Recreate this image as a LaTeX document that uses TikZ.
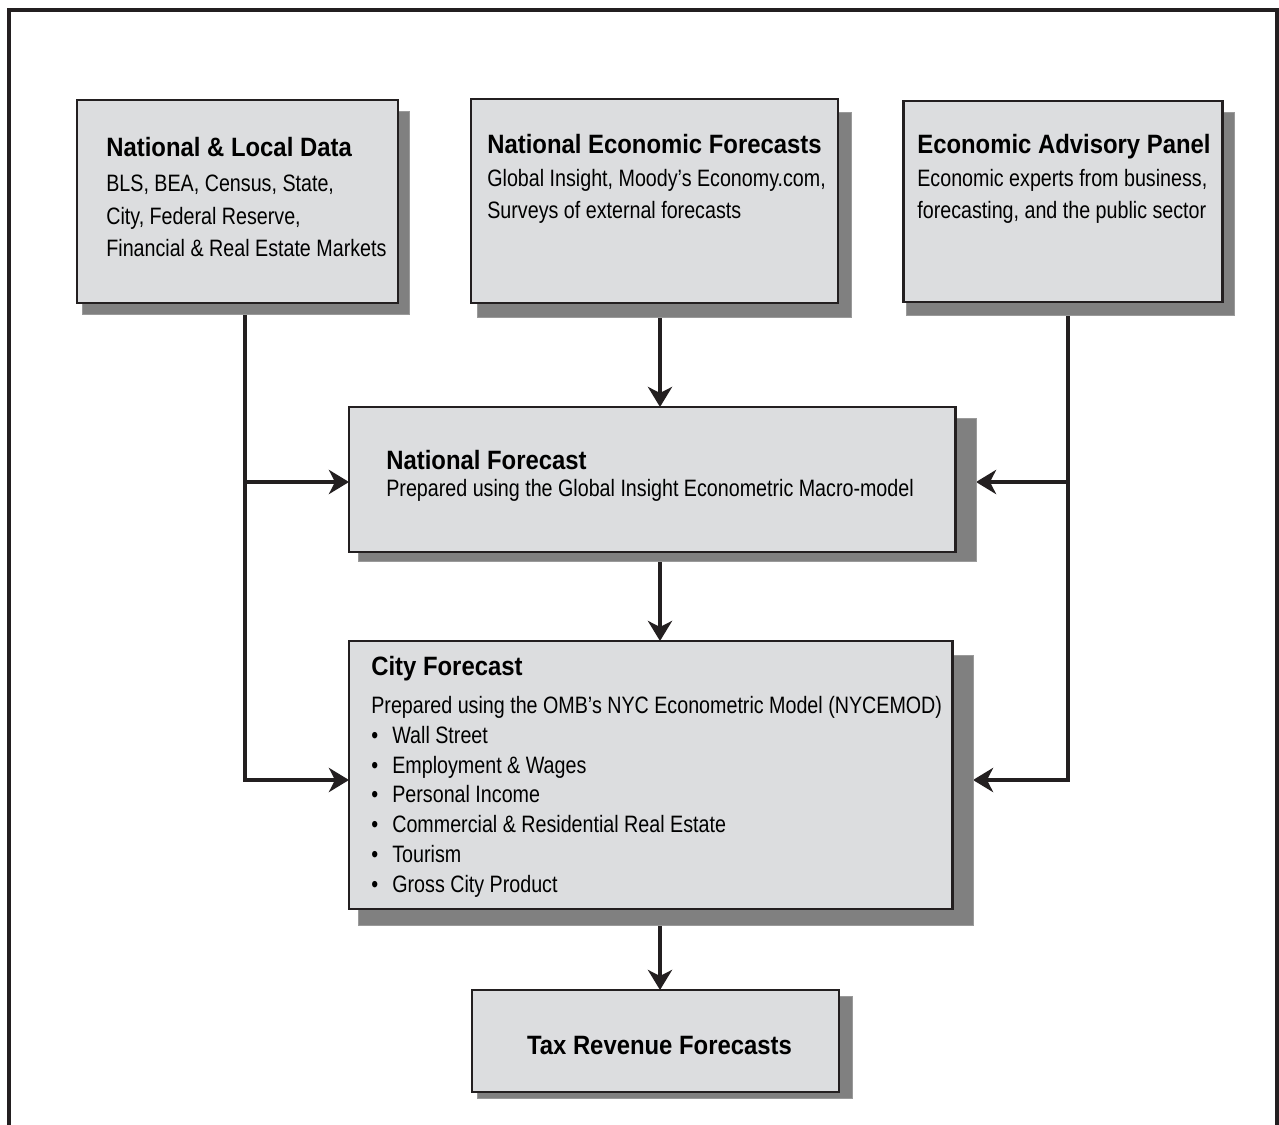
\documentclass[tikz,border=0pt]{standalone}
\usepackage{fontspec}
\setmainfont{Liberation Sans}[FakeStretch=0.83]
\newfontfamily\titlefont{Liberation Sans}[FakeStretch=0.9]
\usetikzlibrary{arrows.meta}
\definecolor{boxfill}{HTML}{DCDDDF}
\definecolor{shfill}{HTML}{808080}
\definecolor{shline}{HTML}{9A9A9A}
\definecolor{ink}{HTML}{231F20}
\pgfdeclarelayer{bg}
\pgfsetlayers{bg,main}
\newcommand\pxnode[6]{% style, name, x1,y1,x2,y2
  \node[#1, minimum width={(#5-#3)*0.02cm}, minimum height={(#6-#4)*0.02cm}] (#2) at ({(#3+#5)/2},{(#4+#6)/2}) {};}
\newcommand\bul{\makebox[11.95pt][l]{•}}
\begin{document}
\begin{tikzpicture}[x=0.02cm,y=-0.02cm,
  boxst/.style={rectangle, draw=ink, line width=1.7pt, fill=boxfill, inner sep=0pt, outer sep=0pt},
  shst/.style={rectangle, fill=shfill, draw=shline, line width=0.5pt, inner sep=0pt, outer sep=0pt},
  ttl/.style={anchor=base west, inner sep=0pt, font=\titlefont\bfseries\fontsize{15.1}{18}\selectfont},
  bdy/.style={anchor=base west, inner sep=0pt, font=\fontsize{13.5}{18.2}\selectfont},
  ln/.style={draw=ink, line width=2pt},
  arr/.style={ln, -{Stealth[length=11.4pt, width=13.7pt, inset=3.4pt]}}
]
\useasboundingbox (0,0) rectangle (1279,1125);
% outer frame (open at the bottom)
\draw[ink, line width=1.9pt] (9,1130) -- (9,10) -- (1277,10) -- (1277,1130);

% shadows
\pxnode{shst}{sh1}{82}{111}{409}{314}
\pxnode{shst}{sh2}{477}{112}{851}{317}
\pxnode{shst}{sh3}{906}{112}{1234}{315}
\pxnode{shst}{shn}{358}{418}{976}{561}
\pxnode{shst}{shc}{358}{655}{973}{925}
\pxnode{shst}{sht}{477}{996}{852}{1098}
% boxes
\pxnode{boxst}{b1}{77}{100}{398}{303}
\pxnode{boxst}{b2}{471}{99}{838}{303}
\pxnode{boxst}{b3}{903}{101}{1222}{302}
\pxnode{boxst}{natl}{349}{407}{955}{552}
\pxnode{boxst}{city}{349}{641}{952}{909}
\pxnode{boxst}{tax}{472}{990}{839}{1092}

% texts
\node[ttl] (t1) at (106,157) {National \& Local Data};
\node[bdy] (d1a) at (106,192) {BLS, BEA, Census, State,};
\node[bdy] (d1b) at (106,224.5) {City, Federal Reserve,};
\node[bdy] (d1c) at (106,257) {Financial \& Real Estate Markets};
\node[ttl] (t2) at (487,154) {National Economic Forecasts};
\node[bdy] (d2a) at (487,187) {Global Insight, Moody’s Economy.com,};
\node[bdy] (d2b) at (487,218.5) {Surveys of external forecasts};
\node[ttl] (t3) at (917,154) {Economic Advisory Panel};
\node[bdy] (d3a) at (917,187) {Economic experts from business,};
\node[bdy] (d3b) at (917,218.5) {forecasting, and the public sector};
\node[ttl] (tn) at (386,469) {National Forecast};
\node[bdy] (dn) at (386,497) {Prepared using the Global Insight Econometric Macro-model};
\node[ttl] (tc) at (371,675) {City Forecast};
\node[bdy] (dc0) at (371,713) {Prepared using the OMB’s NYC Econometric Model (NYCEMOD)};
\node[bdy] (dc1) at (371,743) {\bul Wall Street};
\node[bdy] (dc2) at (371,773) {\bul Employment \& Wages};
\node[bdy] (dc3) at (371,802.5) {\bul Personal Income};
\node[bdy] (dc4) at (371,832) {\bul Commercial \& Residential Real Estate};
\node[bdy] (dc5) at (371,862) {\bul Tourism};
\node[bdy] (dc6) at (371,892) {\bul Gross City Product};
\node[ttl, anchor=base] (tt) at (659.5,1054) {Tax Revenue Forecasts};

% connectors
\coordinate (L) at (245,0);
\coordinate (R) at (1068,0);
\coordinate (V) at (660,0);
\coordinate (ya) at (0,482);
\coordinate (yb) at (0,780);
\begin{pgfonlayer}{bg}
\draw[arr] (b1.south -| L) |- (city.west |- yb);
\draw[arr] (L |- ya) -- (natl.west |- ya);
\draw[arr] (b3.south -| R) |- (shc.east |- yb);
\draw[arr] (R |- ya) -- (shn.east |- ya);
\draw[arr] (b2.south -| V) -- (natl.north -| V);
\draw[arr] (natl.south -| V) -- (city.north -| V);
\draw[arr] (city.south -| V) -- (tax.north -| V);
\end{pgfonlayer}
\end{tikzpicture}
\end{document}
